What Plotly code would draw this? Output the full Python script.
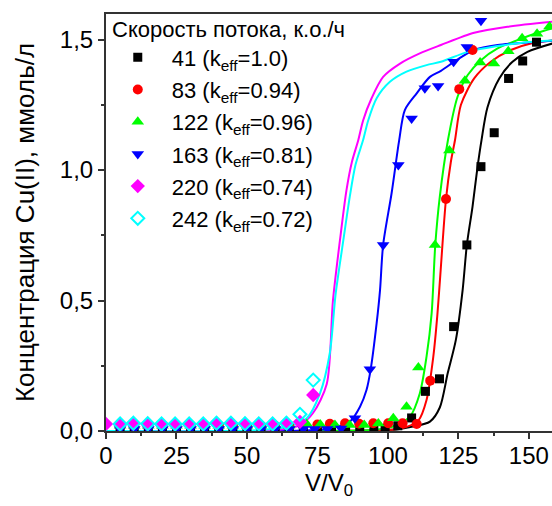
import plotly.graph_objects as go

# ---------------- data ----------------
legend_title = "Скорость потока, к.о./ч"
series_names = ["41 (k<sub>eff</sub>=1.0)", "83 (k<sub>eff</sub>=0.94)", "122 (k<sub>eff</sub>=0.96)",
                "163 (k<sub>eff</sub>=0.81)", "220 (k<sub>eff</sub>=0.74)", "242 (k<sub>eff</sub>=0.72)"]

# measured points
black_v = [5, 10, 15, 20, 25, 30, 35, 40, 45, 50, 55, 60, 65, 70, 75, 80, 85, 90, 95, 99, 103.5,
           108.4, 113.3, 118.3, 123.3, 128.0, 133.0, 137.7, 142.8, 147.8, 152.7]
black_c = [0.01, 0.01, 0.01, 0.01, 0.01, 0.01, 0.01, 0.01, 0.01, 0.01, 0.01, 0.01, 0.01, 0.01, 0.01,
           0.01, 0.01, 0.01, 0.01, 0.01, 0.02, 0.05, 0.152, 0.20, 0.40, 0.713, 1.013, 1.143, 1.351, 1.418, 1.49]

red_v = [5, 10, 15, 20, 25, 30, 35, 40, 45, 50, 55, 60, 65, 70, 75, 79.4, 84.8, 89.8, 94.8, 100.1,
         105.2, 110.2, 115.0, 120.6, 125.3, 130.0]
red_c = [0.02, 0.02, 0.02, 0.02, 0.02, 0.02, 0.02, 0.02, 0.02, 0.02, 0.02, 0.02, 0.02, 0.02, 0.025,
         0.028, 0.03, 0.028, 0.03, 0.03, 0.03, 0.027, 0.193, 0.889, 1.31, 1.46]

green_v = [5, 10, 15, 20, 25, 30, 35, 40, 45, 50, 55, 60, 65, 71.2, 76.0, 81.2, 86.4, 91.6, 96.6,
           101.9, 106.6, 110.8, 116.7, 121.8, 127.3, 132.7, 137.6, 142.7, 147.6, 152.9, 157.3]
green_c = [0.02, 0.02, 0.02, 0.02, 0.02, 0.02, 0.02, 0.02, 0.02, 0.02, 0.02, 0.02, 0.02, 0.027, 0.025,
           0.023, 0.023, 0.023, 0.029, 0.049, 0.093, 0.243, 0.713, 1.075, 1.342, 1.412, 1.408, 1.455,
           1.505, 1.522, 1.55]

blue_v = [5, 10, 15, 20, 25, 30, 35, 40, 45, 50, 55, 60, 65, 70, 74, 78.5, 83.4, 88.3, 93.6, 98.3,
          103.7, 108.4, 113.1, 117.8, 123.3, 128.0, 133.0]
blue_c = [0.008, 0.008, 0.008, 0.008, 0.008, 0.008, 0.008, 0.008, 0.008, 0.008, 0.008, 0.008, 0.008,
          0.008, 0.008, 0.008, 0.01, 0.049, 0.237, 0.713, 1.019, 1.198, 1.313, 1.322, 1.415, 1.472, 1.572]

magenta_v = [0, 5, 9.7, 14.8, 19.7, 24.5, 29.5, 34.5, 39.2, 44.3, 49.3, 54.2, 59.1, 64.0, 68.8, 73.5]
magenta_c = [0.027, 0.025, 0.027, 0.025, 0.025, 0.025, 0.025, 0.025, 0.03, 0.03, 0.027, 0.027, 0.027,
             0.03, 0.035, 0.138]

cyan_v = [5, 9.7, 14.8, 19.7, 24.5, 29.5, 34.5, 39.2, 44.3, 49.3, 54.2, 59.1, 64.0, 68.8, 73.5]
cyan_c = [0.027, 0.03, 0.028, 0.027, 0.027, 0.027, 0.027, 0.03, 0.03, 0.028, 0.027, 0.027, 0.03,
          0.064, 0.195]

# fitted curves
black_fit_v = [0, 60, 95, 103, 108.4, 114.9, 118.4, 121.2, 124.1, 126.5, 128.0, 130.0, 131.8, 133.2,
               135.3, 139.5, 144.2, 149.5, 160]
black_fit_c = [0, 0, 0.002, 0.006, 0.016, 0.036, 0.09, 0.221, 0.349, 0.54, 0.713, 0.859, 1.013, 1.115,
               1.24, 1.351, 1.415, 1.453, 1.49]

red_fit_v = [0, 60, 95, 102, 106.6, 110.8, 113.7, 116.1, 117.5, 118.6, 120.6, 122.3, 123.8, 125.9,
             130.6, 136.5, 143.6, 150.7, 160]
red_fit_c = [0, 0, 0.002, 0.006, 0.016, 0.04, 0.119, 0.285, 0.44, 0.6, 0.889, 1.03, 1.115, 1.25,
             1.351, 1.415, 1.46, 1.485, 1.498]

green_fit_v = [0, 60, 93, 100, 103.1, 107.8, 111.3, 113.7, 115.5, 116.8, 118.4, 121.3, 124.7, 128.3,
               133.0, 138.9, 146.0, 153.1, 160]
green_fit_c = [0, 0, 0.003, 0.012, 0.023, 0.055, 0.144, 0.285, 0.45, 0.713, 0.898, 1.115, 1.281,
               1.364, 1.421, 1.466, 1.498, 1.526, 1.548]

blue_fit_v = [0, 50, 70, 77, 81.8, 86.5, 90.1, 92.4, 93.9, 96.0, 97.2, 98.3, 101.3, 104.0, 106.0,
              110.2, 114.9, 118.8, 124.7, 130.6, 138.9, 148.3, 160]
blue_fit_c = [0, 0, 0.002, 0.006, 0.016, 0.036, 0.093, 0.157, 0.237, 0.413, 0.54, 0.713, 0.911, 1.115,
              1.23, 1.294, 1.357, 1.38, 1.424, 1.46, 1.479, 1.488, 1.497]

magenta_fit_v = [0, 40, 60, 68.8, 73.5, 78.3, 80.5, 83.0, 85.3, 87.2, 89.5, 91.2, 94.2, 98.3, 104.3,
                 111.3, 118.8, 130.6, 142.4, 160]
magenta_fit_c = [0, 0, 0.003, 0.023, 0.07, 0.18, 0.5, 0.732, 0.923, 1.03, 1.115, 1.19, 1.275, 1.357,
                 1.408, 1.447, 1.479, 1.526, 1.549, 1.57]

cyan_fit_v = [0, 40, 55, 64.1, 71.2, 75.9, 79.4, 81.4, 84.2, 86.5, 88.5, 91.2, 93.0, 96.0, 100.7,
              106.6, 113.7, 118.8, 128.3, 138.9, 148.3, 160]
cyan_fit_c = [0, 0, 0.004, 0.016, 0.049, 0.144, 0.3, 0.52, 0.732, 0.9, 1.02, 1.115, 1.19, 1.275, 1.338,
              1.377, 1.402, 1.415, 1.453, 1.475, 1.489, 1.498]

x_ticks = [0, 25, 50, 75, 100, 125, 150]
y_ticks = [0.0, 0.5, 1.0, 1.5]

# ---------------- styles ----------------
colors = ["#000000", "#FF0000", "#00FF00", "#0000FF", "#FF00FF", "#00FFFF"]
symbols = ["square", "circle", "triangle-up", "triangle-down", "diamond", "diamond-open"]
sizes = [9, 10, 11, 11, 11, 10]

points = [(black_v, black_c), (red_v, red_c), (green_v, green_c), (blue_v, blue_c),
          (magenta_v, magenta_c), (cyan_v, cyan_c)]
fits = [(black_fit_v, black_fit_c), (red_fit_v, red_fit_c), (green_fit_v, green_fit_c),
        (blue_fit_v, blue_fit_c), (magenta_fit_v, magenta_fit_c), (cyan_fit_v, cyan_fit_c)]

fig = go.Figure()
for (fv, fc), col in zip(fits, colors):
    fig.add_trace(go.Scatter(x=fv, y=fc, mode="lines", line=dict(color=col, width=2, shape="spline", smoothing=0.8),
                             showlegend=False, hoverinfo="skip"))
for i, ((pv, pc), col, sym, sz, nm) in enumerate(zip(points, colors, symbols, sizes, series_names)):
    mk = dict(color=col, symbol=sym, size=sz)
    if sym.endswith("open"):
        mk["line"] = dict(color=col, width=2)
    fig.add_trace(go.Scatter(x=pv, y=pc, mode="markers", marker=mk, name=nm, legendgroup="g%d" % i))

FONT = "Liberation Sans, Arial"
axis_font = dict(family=FONT, size=24, color="black")
fig.update_layout(
    width=552, height=506,
    margin=dict(l=106, r=0, t=14, b=75),
    plot_bgcolor="white", paper_bgcolor="white",
    separators=", ",
    font=dict(family=FONT, color="black"),
    legend=dict(x=-0.005, y=0.946, xanchor="left", yanchor="top", bgcolor="rgba(0,0,0,0)",
                font=dict(size=22), itemwidth=58, tracegroupgap=0.6),
    annotations=[dict(text=legend_title, xref="paper", yref="paper", x=0.008, y=0.962,
                      xanchor="left", yanchor="middle", showarrow=False,
                      font=dict(size=22, family=FONT, color="black"))],
    xaxis=dict(range=[0, 158.2], tickvals=x_ticks, ticks="outside", ticklen=6, tickwidth=1.5,
               tickcolor="#333", showline=True, linewidth=2, linecolor="#333", mirror=True,
               showgrid=False, zeroline=False, tickfont=axis_font, ticklabelstandoff=-4,
               minor=dict(ticks="outside", ticklen=3, tickwidth=1.5, tickcolor="#333", dtick=12.5, tick0=0),
               title=dict(text="V/V<sub>0</sub>", font=dict(size=24), standoff=6)),
    yaxis=dict(range=[0, 1.598], tickvals=y_ticks, tickformat=".1f", ticks="outside", ticklen=6,
               tickwidth=1.5, tickcolor="#333", showline=True, linewidth=2, linecolor="#333",
               showgrid=False, zeroline=False, tickfont=axis_font,
               minor=dict(ticks="outside", ticklen=3, tickwidth=1.5, tickcolor="#333", dtick=0.25, tick0=0),
               title=dict(text="Концентрация Cu(II), ммоль/л", font=dict(size=26), standoff=18)),
)
fig.write_html("out.html", config={"displayModeBar": False},
               post_script="document.body.style.margin='0px';")
